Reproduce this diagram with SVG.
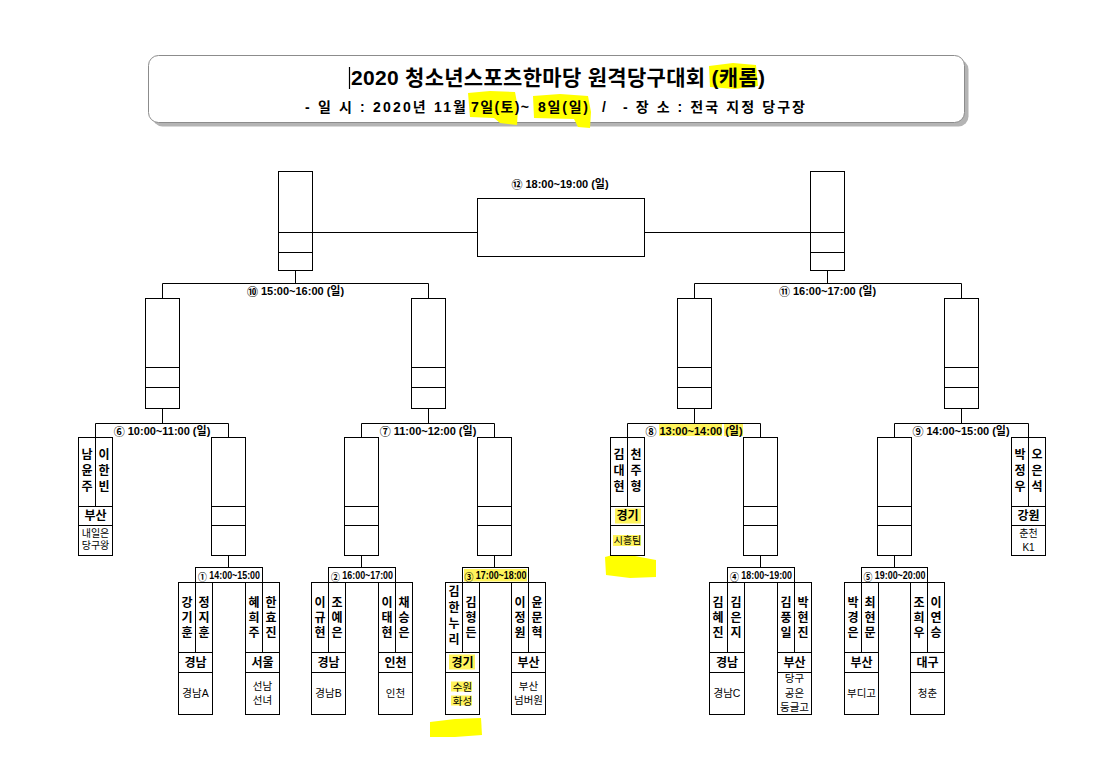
<svg xmlns="http://www.w3.org/2000/svg" width="1115" height="775" viewBox="0 0 1115 775">
<style>
.bx{fill:#fff;stroke:#000;stroke-width:1}
.ln{fill:none;stroke:#000;stroke-width:1}
text{font-family:"Liberation Sans","Noto Sans CJK KR",sans-serif;fill:#000}
.nm{font-weight:bold;font-size:12px;text-anchor:middle;dominant-baseline:central}
.rg{font-weight:bold;font-size:12px;text-anchor:middle;dominant-baseline:central}
.tm{font-size:10.5px;text-anchor:middle;dominant-baseline:central}
.tq{font-size:10px;text-anchor:middle;dominant-baseline:central}
.lb{font-weight:bold;font-size:11px;text-anchor:middle;dominant-baseline:central}
.l1{font-weight:bold;font-size:10px;text-anchor:middle;dominant-baseline:central}
.cn{font-family:"Noto Sans CJK KR",sans-serif;font-weight:bold}
.hl{fill:#fff45c}
.mk{fill:#ffff00}
.tt{font-weight:bold;font-size:21px;dominant-baseline:central}
.st{font-weight:bold;font-size:14px;dominant-baseline:central}
</style>
<rect width="1115" height="775" fill="#fff"/>

<g id="title">
  <rect x="152.5" y="59.5" width="816" height="67" rx="10" fill="#b4b4b4"/>
  <rect x="148.5" y="55.5" width="816" height="67" rx="10" fill="#fff" stroke="#8c8c8c"/>
  <path class="mk" d="M709 66 L733 63 L756 65 L758 86 L735 89 L710 87 Z"/>
  <path class="mk" d="M468 93 L490 91 L515 92 L518 108 L517 125 L500 123 L494 118 L470 117 Z"/>
  <path class="mk" d="M533 96 L560 94 L588 96 L591 112 L590 128 L578 127 L574 119 L534 118 Z"/>
  <line x1="349.5" y1="67" x2="349.5" y2="89" stroke="#000" stroke-width="1.2"/>
  <text class="tt" x="351" y="77" textLength="414" lengthAdjust="spacing">2020 청소년스포츠한마당 원격당구대회 (캐롬)</text>
  <text class="st" x="305" y="106.5" textLength="161" lengthAdjust="spacing">- 일 시 : 2020년 11월</text>
  <text class="st" x="471" y="106.5" textLength="58" lengthAdjust="spacing">7일(토)~</text>
  <text class="st" x="538" y="106.5" textLength="50" lengthAdjust="spacing">8일(일)</text>
  <text class="st" x="602" y="106.5">/</text>
  <text class="st" x="623" y="106.5" textLength="182" lengthAdjust="spacing">- 장 소 : 전국 지정 당구장</text>
</g>

<g id="connectors">
  <path class="ln" d="M312.5 232.5 H477.5 M644.5 232.5 H810.5"/>
  <path class="ln" d="M295.5 270.5 V283.5 M162.5 298.5 V283.5 H428.5 V298.5"/>
  <path class="ln" d="M827.5 270.5 V283.5 M694.5 298.5 V283.5 H961.5 V298.5"/>
  <path class="ln" d="M162.5 408.5 V423.5 M95.5 437.5 V423.5 H228.5 V437.5"/>
  <path class="ln" d="M428.5 408.5 V423.5 M361.5 437.5 V423.5 H494.5 V437.5"/>
  <path class="ln" d="M694.5 408.5 V423.5 M627.5 437.5 V423.5 H760.5 V437.5"/>
  <path class="ln" d="M961.5 408.5 V423.5 M894.5 437.5 V423.5 H1028.5 V437.5"/>
  <path class="ln" d="M228.5 555.5 V567.5 M361.5 555.5 V567.5 M494.5 555.5 V567.5 M760.5 555.5 V567.5 M894.5 555.5 V567.5"/>
  <rect class="ln" x="195.5" y="567.5" width="67" height="15"/>
  <rect class="ln" x="328.5" y="567.5" width="67" height="15"/>
  <rect class="ln" x="462.5" y="567.5" width="66" height="15"/>
  <rect class="ln" x="727.5" y="567.5" width="67" height="15"/>
  <rect class="ln" x="861.5" y="567.5" width="66" height="15"/>
</g>

<g id="labels">
  <text class="lb" x="560" y="184"><tspan class="cn">⑫</tspan> 18:00~19:00 (일)</text>
  <text class="lb" x="295.5" y="291"><tspan class="cn">⑩</tspan> 15:00~16:00 (일)</text>
  <text class="lb" x="827.5" y="291"><tspan class="cn">⑪</tspan> 16:00~17:00 (일)</text>
  <text class="lb" x="162" y="430.5"><tspan class="cn">⑥</tspan> 10:00~11:00 (일)</text>
  <text class="lb" x="428" y="430.5"><tspan class="cn">⑦</tspan> 11:00~12:00 (일)</text>
  <rect class="hl" x="659" y="424" width="63" height="12"/>
  <rect class="hl" x="724" y="424" width="19" height="12"/>
  <text class="lb" x="694" y="430.5"><tspan class="cn">⑧</tspan> 13:00~14:00 (일)</text>
  <text class="lb" x="961" y="430.5"><tspan class="cn">⑨</tspan> 14:00~15:00 (일)</text>
  <text class="l1" x="229" y="575.5" textLength="62" lengthAdjust="spacingAndGlyphs"><tspan class="cn">①</tspan> 14:00~15:00</text>
  <text class="l1" x="362" y="575.5" textLength="62" lengthAdjust="spacingAndGlyphs"><tspan class="cn">②</tspan> 16:00~17:00</text>
  <rect class="hl" x="464" y="569" width="63" height="12.5"/>
  <text class="l1" x="495.5" y="575.5" textLength="62" lengthAdjust="spacingAndGlyphs"><tspan class="cn">③</tspan> 17:00~18:00</text>
  <text class="l1" x="761" y="575.5" textLength="62" lengthAdjust="spacingAndGlyphs"><tspan class="cn">④</tspan> 18:00~19:00</text>
  <text class="l1" x="894.5" y="575.5" textLength="62" lengthAdjust="spacingAndGlyphs"><tspan class="cn">⑤</tspan> 19:00~20:00</text>
</g>

<g id="final">
  <rect class="bx" x="477.5" y="198.5" width="167" height="58"/>
</g>
<g id="finalist-left">
  <rect class="bx" x="278.5" y="171.5" width="34" height="99"/>
  <path class="ln" d="M278.5 232.5 H312.5 M278.5 252.5 H312.5"/>
</g>
<g id="finalist-right">
  <rect class="bx" x="810.5" y="171.5" width="34" height="99"/>
  <path class="ln" d="M810.5 232.5 H844.5 M810.5 252.5 H844.5"/>
</g>

<g id="sf-boxes">
  <g id="sf-1"><rect class="bx" x="145.5" y="298.5" width="34" height="110"/><path class="ln" d="M145.5 367.5 H179.5 M145.5 387.5 H179.5"/></g>
  <g id="sf-2"><rect class="bx" x="411.5" y="298.5" width="34" height="110"/><path class="ln" d="M411.5 367.5 H445.5 M411.5 387.5 H445.5"/></g>
  <g id="sf-3"><rect class="bx" x="677.5" y="298.5" width="34" height="110"/><path class="ln" d="M677.5 367.5 H711.5 M677.5 387.5 H711.5"/></g>
  <g id="sf-4"><rect class="bx" x="944.5" y="298.5" width="34" height="110"/><path class="ln" d="M944.5 367.5 H978.5 M944.5 387.5 H978.5"/></g>
</g>

<g id="qf-empty">
  <g id="qf6-right"><rect class="bx" x="211.5" y="437.5" width="34" height="118"/><path class="ln" d="M211.5 506.5 H245.5 M211.5 525.5 H245.5"/></g>
  <g id="qf7-left"><rect class="bx" x="344.5" y="437.5" width="34" height="118"/><path class="ln" d="M344.5 506.5 H378.5 M344.5 525.5 H378.5"/></g>
  <g id="qf7-right"><rect class="bx" x="477.5" y="437.5" width="34" height="118"/><path class="ln" d="M477.5 506.5 H511.5 M477.5 525.5 H511.5"/></g>
  <g id="qf8-right"><rect class="bx" x="743.5" y="437.5" width="34" height="118"/><path class="ln" d="M743.5 506.5 H777.5 M743.5 525.5 H777.5"/></g>
  <g id="qf9-left"><rect class="bx" x="877.5" y="437.5" width="34" height="118"/><path class="ln" d="M877.5 506.5 H911.5 M877.5 525.5 H911.5"/></g>
</g>

<g id="team-busan-1">
  <rect class="bx" x="78.5" y="437.5" width="34" height="118"/>
  <path class="ln" d="M78.5 506.5 H112.5 M78.5 525.5 H112.5 M95.5 437.5 V506.5"/>
  <text class="nm" x="87" y="455">남</text><text class="nm" x="87" y="471">윤</text><text class="nm" x="87" y="487">주</text>
  <text class="nm" x="104" y="455">이</text><text class="nm" x="104" y="471">한</text><text class="nm" x="104" y="487">빈</text>
  <text class="rg" x="95.5" y="516">부산</text>
  <text class="tq" x="95.5" y="533">내일은</text><text class="tq" x="95.5" y="545">당구왕</text>
</g>

<g id="team-gyeonggi-1">
  <path class="mk" d="M605 557 L620 553 L640 557 L656 560 L656 577 L630 578 L606 575 Z"/>
  <rect class="bx" x="610.5" y="437.5" width="34" height="118"/>
  <path class="ln" d="M610.5 506.5 H644.5 M610.5 525.5 H644.5 M627.5 437.5 V506.5"/>
  <rect class="hl" x="615" y="508.5" width="26" height="15"/>
  <rect class="hl" x="613" y="535" width="28" height="11"/>
  <text class="nm" x="619" y="455">김</text><text class="nm" x="619" y="471">대</text><text class="nm" x="619" y="487">현</text>
  <text class="nm" x="636" y="455">천</text><text class="nm" x="636" y="471">주</text><text class="nm" x="636" y="487">형</text>
  <text class="rg" x="627.5" y="516">경기</text>
  <text class="tq" x="627.5" y="540.5">시흥팀</text>
</g>

<g id="team-gangwon">
  <rect class="bx" x="1011.5" y="437.5" width="34" height="118"/>
  <path class="ln" d="M1011.5 506.5 H1045.5 M1011.5 525.5 H1045.5 M1028.5 437.5 V506.5"/>
  <text class="nm" x="1020" y="455">박</text><text class="nm" x="1020" y="471">정</text><text class="nm" x="1020" y="487">우</text>
  <text class="nm" x="1037" y="455">오</text><text class="nm" x="1037" y="471">은</text><text class="nm" x="1037" y="487">석</text>
  <text class="rg" x="1028.5" y="516">강원</text>
  <text class="tq" x="1028.5" y="533">춘천</text><text class="tq" x="1028.5" y="547">K1</text>
</g>

<g id="team-gyeongnam-a">
  <rect class="bx" x="178.5" y="582.5" width="34" height="132"/>
  <path class="ln" d="M178.5 652.5 H212.5 M178.5 672.5 H212.5 M195.5 582.5 V652.5"/>
  <text class="nm" x="187" y="603">강</text><text class="nm" x="187" y="618">기</text><text class="nm" x="187" y="633">훈</text>
  <text class="nm" x="204" y="603">정</text><text class="nm" x="204" y="618">지</text><text class="nm" x="204" y="633">훈</text>
  <text class="rg" x="195.5" y="662.5">경남</text>
  <text class="tm" x="195.5" y="693">경남A</text>
</g>

<g id="team-seoul">
  <rect class="bx" x="245.5" y="582.5" width="34" height="132"/>
  <path class="ln" d="M245.5 652.5 H279.5 M245.5 672.5 H279.5 M262.5 582.5 V652.5"/>
  <text class="nm" x="254" y="603">혜</text><text class="nm" x="254" y="618">희</text><text class="nm" x="254" y="633">주</text>
  <text class="nm" x="271" y="603">한</text><text class="nm" x="271" y="618">효</text><text class="nm" x="271" y="633">진</text>
  <text class="rg" x="262.5" y="662.5">서울</text>
  <text class="tm" x="262.5" y="686">선남</text><text class="tm" x="262.5" y="700">선녀</text>
</g>

<g id="team-gyeongnam-b">
  <rect class="bx" x="311.5" y="582.5" width="34" height="132"/>
  <path class="ln" d="M311.5 652.5 H345.5 M311.5 672.5 H345.5 M328.5 582.5 V652.5"/>
  <text class="nm" x="320" y="603">이</text><text class="nm" x="320" y="618">규</text><text class="nm" x="320" y="633">현</text>
  <text class="nm" x="337" y="603">조</text><text class="nm" x="337" y="618">예</text><text class="nm" x="337" y="633">은</text>
  <text class="rg" x="328.5" y="662.5">경남</text>
  <text class="tm" x="328.5" y="693">경남B</text>
</g>

<g id="team-incheon">
  <rect class="bx" x="378.5" y="582.5" width="34" height="132"/>
  <path class="ln" d="M378.5 652.5 H412.5 M378.5 672.5 H412.5 M395.5 582.5 V652.5"/>
  <text class="nm" x="387" y="603">이</text><text class="nm" x="387" y="618">태</text><text class="nm" x="387" y="633">현</text>
  <text class="nm" x="404" y="603">채</text><text class="nm" x="404" y="618">승</text><text class="nm" x="404" y="633">은</text>
  <text class="rg" x="395.5" y="662.5">인천</text>
  <text class="tm" x="395.5" y="693">인천</text>
</g>

<g id="team-gyeonggi-2">
  <path class="mk" d="M430 722 L455 719 L481 718 L482 735 L455 737 L430 737 Z"/>
  <rect class="bx" x="445.5" y="582.5" width="34" height="132"/>
  <path class="ln" d="M445.5 652.5 H479.5 M445.5 672.5 H479.5 M462.5 582.5 V652.5"/>
  <rect class="hl" x="449" y="654.5" width="26" height="15"/>
  <rect class="hl" x="451" y="681.5" width="21" height="10"/>
  <rect class="hl" x="451" y="695.5" width="21" height="10"/>
  <text class="nm" x="454" y="592">김</text><text class="nm" x="454" y="608">한</text><text class="nm" x="454" y="624">누</text><text class="nm" x="454" y="640">리</text>
  <text class="nm" x="471" y="603">김</text><text class="nm" x="471" y="618">형</text><text class="nm" x="471" y="633">든</text>
  <text class="rg" x="462.5" y="662.5">경기</text>
  <text class="tm" x="462.5" y="686.5">수원</text><text class="tm" x="462.5" y="700.5">화성</text>
</g>

<g id="team-busan-2">
  <rect class="bx" x="511.5" y="582.5" width="34" height="132"/>
  <path class="ln" d="M511.5 652.5 H545.5 M511.5 672.5 H545.5 M528.5 582.5 V652.5"/>
  <text class="nm" x="520" y="603">이</text><text class="nm" x="520" y="618">정</text><text class="nm" x="520" y="633">원</text>
  <text class="nm" x="537" y="603">윤</text><text class="nm" x="537" y="618">문</text><text class="nm" x="537" y="633">혁</text>
  <text class="rg" x="528.5" y="662.5">부산</text>
  <text class="tm" x="528.5" y="686">부산</text><text class="tm" x="528.5" y="700">넘버원</text>
</g>

<g id="team-gyeongnam-c">
  <rect class="bx" x="709.5" y="582.5" width="35" height="132"/>
  <path class="ln" d="M709.5 652.5 H744.5 M709.5 672.5 H744.5 M727.5 582.5 V652.5"/>
  <text class="nm" x="718" y="603">김</text><text class="nm" x="718" y="618">혜</text><text class="nm" x="718" y="633">진</text>
  <text class="nm" x="736" y="603">김</text><text class="nm" x="736" y="618">은</text><text class="nm" x="736" y="633">지</text>
  <text class="rg" x="727" y="662.5">경남</text>
  <text class="tm" x="727" y="693">경남C</text>
</g>

<g id="team-busan-3">
  <rect class="bx" x="777.5" y="582.5" width="34" height="132"/>
  <path class="ln" d="M777.5 652.5 H811.5 M777.5 672.5 H811.5 M794.5 582.5 V652.5"/>
  <text class="nm" x="786" y="603">김</text><text class="nm" x="786" y="618">풍</text><text class="nm" x="786" y="633">일</text>
  <text class="nm" x="803" y="603">박</text><text class="nm" x="803" y="618">현</text><text class="nm" x="803" y="633">진</text>
  <text class="rg" x="794.5" y="662.5">부산</text>
  <text class="tm" x="794.5" y="678">당구</text><text class="tm" x="794.5" y="692.5">공은</text><text class="tm" x="794.5" y="706.5">둥글고</text>
</g>

<g id="team-busan-4">
  <rect class="bx" x="844.5" y="582.5" width="34" height="132"/>
  <path class="ln" d="M844.5 652.5 H878.5 M844.5 672.5 H878.5 M861.5 582.5 V652.5"/>
  <text class="nm" x="853" y="603">박</text><text class="nm" x="853" y="618">경</text><text class="nm" x="853" y="633">은</text>
  <text class="nm" x="870" y="603">최</text><text class="nm" x="870" y="618">현</text><text class="nm" x="870" y="633">문</text>
  <text class="rg" x="861.5" y="662.5">부산</text>
  <text class="tm" x="861.5" y="693">부디고</text>
</g>

<g id="team-daegu">
  <rect class="bx" x="910.5" y="582.5" width="34" height="132"/>
  <path class="ln" d="M910.5 652.5 H944.5 M910.5 672.5 H944.5 M927.5 582.5 V652.5"/>
  <text class="nm" x="919" y="603">조</text><text class="nm" x="919" y="618">희</text><text class="nm" x="919" y="633">우</text>
  <text class="nm" x="936" y="603">이</text><text class="nm" x="936" y="618">연</text><text class="nm" x="936" y="633">승</text>
  <text class="rg" x="927.5" y="662.5">대구</text>
  <text class="tm" x="927.5" y="693">청춘</text>
</g>
</svg>
